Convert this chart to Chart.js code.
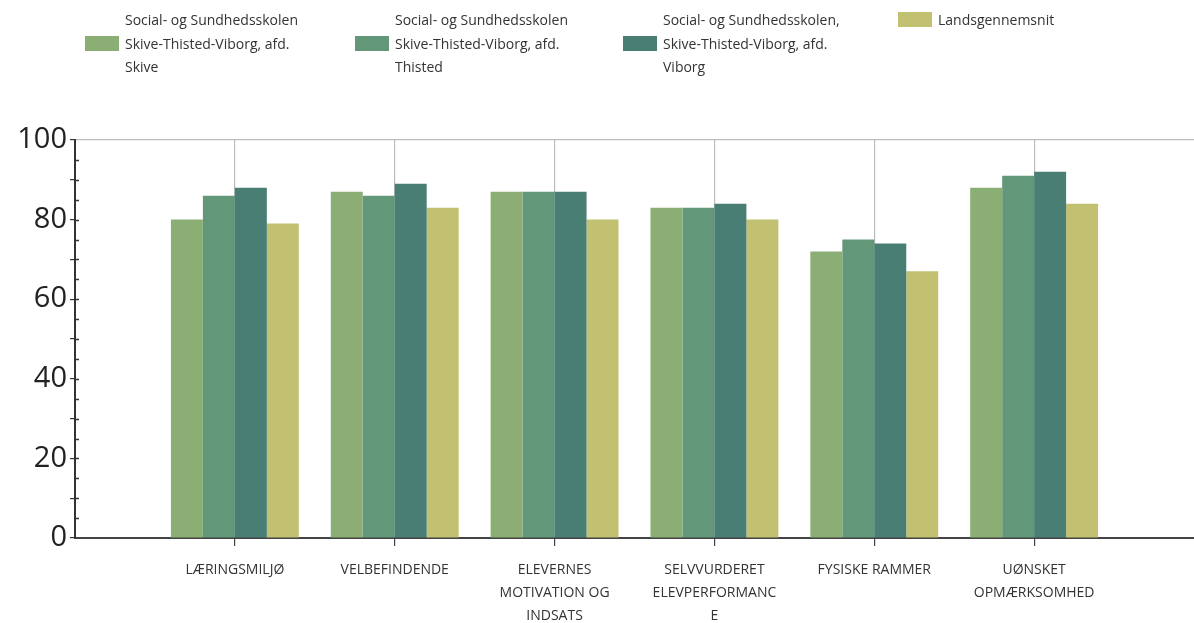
<!DOCTYPE html>
<html>
<head>
<meta charset="utf-8">
<script src="https://cdn.jsdelivr.net/npm/chart.js@4/dist/chart.umd.min.js"></script>
<style>
  body { margin: 0; background: #fff; font-family: "Open Sans", sans-serif; }
  #wrap { position: relative; width: 1194px; height: 623px; }
  #legend { position: absolute; top: 8px; left: 85px; display: flex; align-items: flex-start; color: #333; font-size: 14px; line-height: 23.5px; }
  .item { display: flex; align-items: center; }
  .box { width: 34px; height: 15px; margin-right: 6px; flex: none; }
</style>
</head>
<body>
<div id="wrap">
  <div id="legend"></div>
  <canvas id="chart" width="1194" height="623"></canvas>
</div>
<script>
// Data
const categories = [
  ["LÆRINGSMILJØ"],
  ["VELBEFINDENDE"],
  ["ELEVERNES", "MOTIVATION OG", "INDSATS"],
  ["SELVVURDERET", "ELEVPERFORMANC", "E"],
  ["FYSISKE RAMMER"],
  ["UØNSKET", "OPMÆRKSOMHED"]
];
const seriesNames = [
  ["Social- og Sundhedsskolen", "Skive-Thisted-Viborg, afd.", "Skive"],
  ["Social- og Sundhedsskolen", "Skive-Thisted-Viborg, afd.", "Thisted"],
  ["Social- og Sundhedsskolen,", "Skive-Thisted-Viborg, afd.", "Viborg"],
  ["Landsgennemsnit"]
];
const skive = [80, 87, 87, 83, 72, 88];
const thisted = [86, 86, 87, 83, 75, 91];
const viborg = [88, 89, 87, 84, 74, 92];
const landsgennemsnit = [79, 83, 80, 80, 67, 84];
const colors = ['#8bae74', '#639779', '#487e74', '#c2c071'];

// blank slot on each side so the axis runs past the groups
const labels = [''].concat(categories, ['']);
const pad = arr => [null].concat(arr, [null]);
const allSeries = [skive, thisted, viborg, landsgennemsnit];

// Legend in HTML (multi-line entries)
const legend = document.getElementById('legend');
const widths = [270, 268, 275, 160];
seriesNames.forEach((name, i) => {
  const item = document.createElement('div');
  item.className = 'item';
  item.style.width = widths[i] + 'px';
  const box = document.createElement('div');
  box.className = 'box';
  box.style.background = colors[i];
  const txt = document.createElement('div');
  txt.innerHTML = name.join('<br>');
  item.appendChild(box);
  item.appendChild(txt);
  legend.appendChild(item);
});

// ticks crossing the y axis
const crossTicks = {
  id: 'crossTicks',
  afterDraw(chart) {
    const y = chart.scales.y;
    const ctx = chart.ctx;
    ctx.save();
    ctx.strokeStyle = '#333';
    ctx.lineWidth = 1.5;
    for (let v = 5; v < 100; v += 5) {
      const py = Math.round(y.getPixelForValue(v)) + 0.5;
      ctx.beginPath();
      ctx.moveTo(y.right, py);
      ctx.lineTo(y.right + 4, py);
      ctx.stroke();
    }
    ctx.restore();
  }
};

const ctx = document.getElementById('chart').getContext('2d');
const chart = new Chart(ctx, {
  type: 'bar',
  data: {
    labels: labels,
    datasets: allSeries.map((s, i) => ({
      label: seriesNames[i].join(' '),
      data: pad(s),
      backgroundColor: colors[i],
      borderWidth: 0
    }))
  },
  options: {
    responsive: false,
    animation: false,
    layout: { padding: { top: 140, right: 0, left: 0, bottom: 0 } },
    plugins: { legend: { display: false }, tooltip: { enabled: false } },
    datasets: { bar: { categoryPercentage: 0.8, barPercentage: 1.0 } },
    scales: {
      x: {
        offset: false,
        border: { color: '#444', width: 2 },
        grid: {
          offset: false,
          color: c => (c.index > 0 && c.index < labels.length - 1) ? '#bdbdbd' : 'rgba(0,0,0,0)',
          tickColor: c => (c.index > 0 && c.index < labels.length - 1) ? '#444' : 'rgba(0,0,0,0)',
          tickLength: 8,
          lineWidth: 1.2
        },
        ticks: {
          color: '#333',
          font: { family: '"Open Sans", sans-serif', size: 14, lineHeight: 1.65 },
          maxRotation: 0,
          autoSkip: false,
          padding: 12
        },
        afterFit: s => { s.height = 85; s.paddingRight = 0; s.paddingLeft = 0; }
      },
      y: {
        min: 0,
        max: 100,
        border: { color: '#333', width: 2 },
        grid: {
          color: c => c.tick.value === 100 ? '#bdbdbd' : 'rgba(0,0,0,0)',
          tickColor: '#333',
          tickLength: 5,
          lineWidth: 1.2
        },
        ticks: {
          stepSize: 5,
          color: '#222',
          font: { family: '"Open Sans", sans-serif', size: 29 },
          padding: 3,
          callback: v => v % 20 === 0 ? v : ''
        },
        afterFit: s => { s.width = 75; }
      }
    }
  },
  plugins: [crossTicks]
});
</script>
</body>
</html>
